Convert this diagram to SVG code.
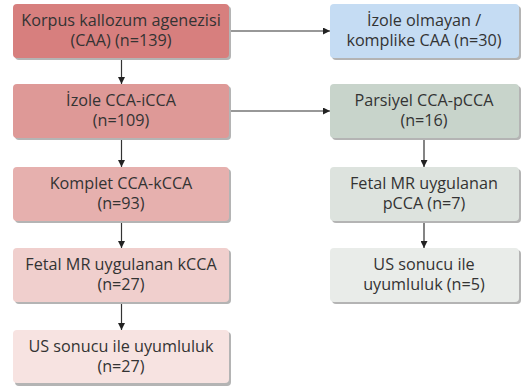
<svg xmlns="http://www.w3.org/2000/svg" width="522" height="387" viewBox="0 0 522 387">
<defs>
<style>
.sh{fill:#b4b4b4}
text{font-family:"Open Sans","Noto Sans",sans-serif;font-size:16.2px;fill:#333;text-anchor:middle}
.ln{stroke:#333;stroke-width:1.2;fill:none}
</style>
<marker id="ah" viewBox="0 0 10 10" refX="10" refY="5" markerWidth="7" markerHeight="7" markerUnits="userSpaceOnUse" orient="auto"><path d="M0,0L10,5L0,10z" fill="#222"/></marker>
</defs>
<rect width="522" height="387" fill="#fff"/>
<g id="connectors">
<line class="ln" x1="229" y1="31" x2="330" y2="31" marker-end="url(#ah)"/>
<line class="ln" x1="229" y1="111" x2="330" y2="111" marker-end="url(#ah)"/>
<line class="ln" x1="121.5" y1="59" x2="121.5" y2="84" marker-end="url(#ah)"/>
<line class="ln" x1="121.5" y1="140" x2="121.5" y2="167" marker-end="url(#ah)"/>
<line class="ln" x1="121.5" y1="222" x2="121.5" y2="248" marker-end="url(#ah)"/>
<line class="ln" x1="121.5" y1="303" x2="121.5" y2="330" marker-end="url(#ah)"/>
<line class="ln" x1="424" y1="140" x2="424" y2="167" marker-end="url(#ah)"/>
<line class="ln" x1="424" y1="222" x2="424" y2="248" marker-end="url(#ah)"/>
</g>
<g id="n1"><rect class="sh" x="15" y="6" width="216" height="54" rx="4"/><rect x="13" y="4" width="216" height="54" rx="4" fill="#d77f7e"/><text x="121" y="25.5">Korpus kallozum agenezisi<tspan x="121" dy="20.5">(CAA) (n=139)</tspan></text></g>
<g id="n2"><rect class="sh" x="15" y="86" width="216" height="54" rx="4"/><rect x="13" y="84" width="216" height="54" rx="4" fill="#de9997"/><text x="121" y="105.5">İzole CCA-iCCA<tspan x="121" dy="20.5">(n=109)</tspan></text></g>
<g id="n3"><rect class="sh" x="15" y="169" width="216" height="54" rx="4"/><rect x="13" y="167" width="216" height="54" rx="4" fill="#e6b0ae"/><text x="121" y="188.5">Komplet CCA-kCCA<tspan x="121" dy="20.5">(n=93)</tspan></text></g>
<g id="n4"><rect class="sh" x="15" y="250" width="216" height="54" rx="4"/><rect x="13" y="248" width="216" height="54" rx="4" fill="#f0cfcd"/><text x="121" y="269.5">Fetal MR uygulanan kCCA<tspan x="121" dy="20.5">(n=27)</tspan></text></g>
<g id="n5"><rect class="sh" x="15" y="332" width="216" height="54" rx="4"/><rect x="13" y="330" width="216" height="53" rx="4" fill="#f7e3e1"/><text x="121" y="351.5">US sonucu ile uyumluluk<tspan x="121" dy="20.5">(n=27)</tspan></text></g>
<g id="r1"><rect class="sh" x="332" y="6" width="189" height="54" rx="4"/><rect x="330" y="4" width="189" height="54" rx="4" fill="#c5dcf3"/><text x="424" y="25.5">İzole olmayan /<tspan x="424" dy="20.5">komplike CAA (n=30)</tspan></text></g>
<g id="r2"><rect class="sh" x="332" y="86" width="189" height="54" rx="4"/><rect x="330" y="84" width="189" height="54" rx="4" fill="#c8d4cb"/><text x="424" y="105.5">Parsiyel CCA-pCCA<tspan x="424" dy="20.5">(n=16)</tspan></text></g>
<g id="r3"><rect class="sh" x="332" y="169" width="189" height="54" rx="4"/><rect x="330" y="167" width="189" height="54" rx="4" fill="#dde3de"/><text x="424" y="188.5">Fetal MR uygulanan<tspan x="424" dy="20.5">pCCA (n=7)</tspan></text></g>
<g id="r4"><rect class="sh" x="332" y="250" width="189" height="54" rx="4"/><rect x="330" y="248" width="189" height="54" rx="4" fill="#e9ece9"/><text x="424" y="269.5">US sonucu ile<tspan x="424" dy="20.5">uyumluluk (n=5)</tspan></text></g>
</svg>
